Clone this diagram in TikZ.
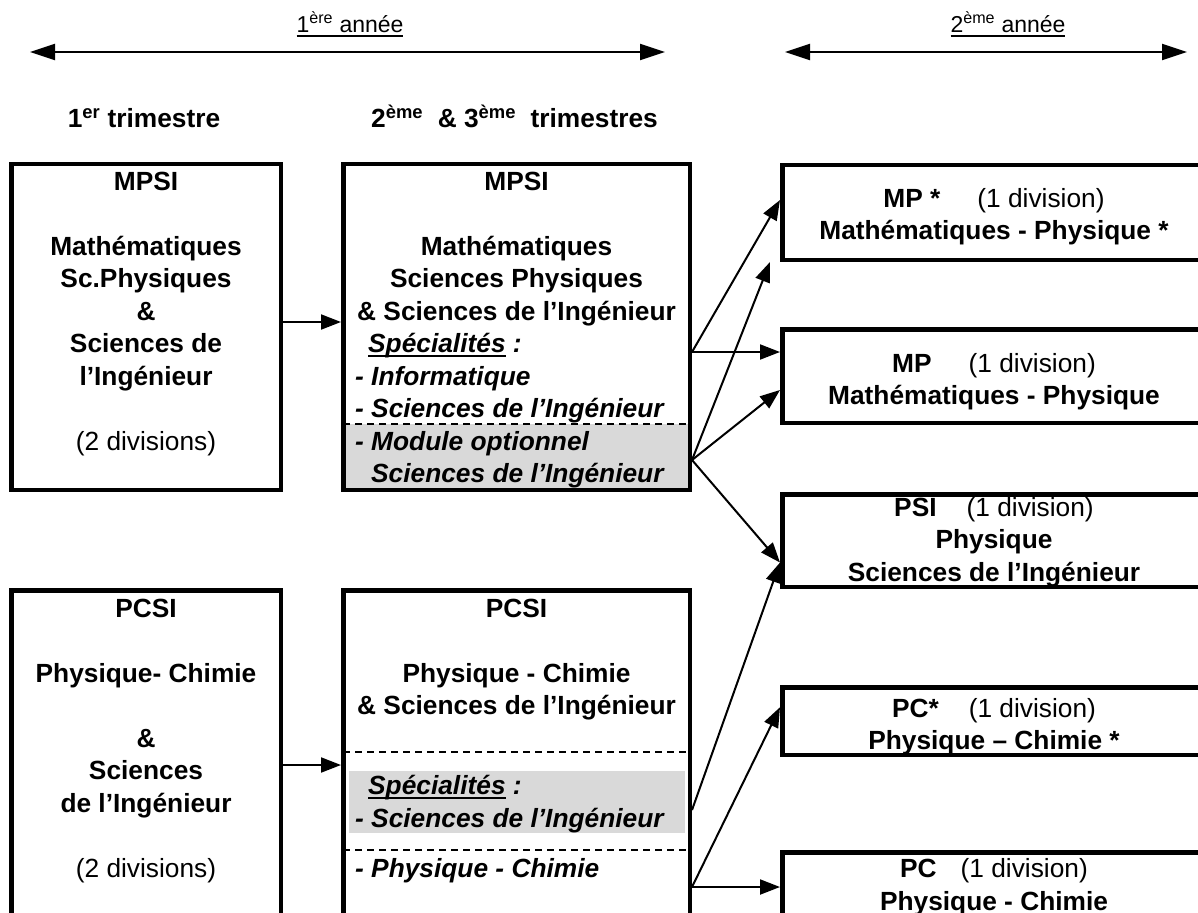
\documentclass[tikz,border=0pt]{standalone}
\usepackage{fontspec}
\setmainfont{Liberation Sans}
\usetikzlibrary{arrows.meta}

\definecolor{gris}{RGB}{217,217,217}
\newcommand\taille{\fontsize{26.3}{32.5}\selectfont}
\newcommand\souligne[1]{\setbox0\hbox{#1}\rlap{\rule[-4pt]{\wd0}{1.5pt}}\box0\relax}

\begin{document}
\begin{tikzpicture}[x=1pt,y=-1pt,
  boite/.style={draw,line width=4.5pt,anchor=north west,inner sep=0pt,align=center,font=\taille\bfseries},
  texte/.style={anchor=base,align=center,inner sep=0pt,font=\taille\bfseries},
  liste/.style={anchor=base west,align=left,inner sep=0pt,font=\taille\bfseries\itshape},
  fleche/.style={line width=2pt,-{Triangle[length=20pt,width=15pt]}},
  annee/.style={line width=2pt,{Triangle[length=25pt,width=16pt]}-{Triangle[length=25pt,width=16pt]}},
  pointille/.style={line width=2pt,dash pattern=on 7pt off 5pt}]
%\draw[style=help lines] (0,0) grid (1198,912);
\useasboundingbox (0,0) rectangle (1198,912);
\clip (0,0) rectangle (1198,912);

% annees
\node[anchor=base,font=\fontsize{23}{27}\selectfont] (an1) at (350,33) {\souligne{1\textsuperscript{ère} année}};
\node[anchor=base,font=\fontsize{23}{27}\selectfont] (an2) at (1008,33) {\souligne{2\textsuperscript{ème} année}};
\coordinate (g1) at (30,52);
\coordinate (d1) at (665,52);
\coordinate (g2) at (785,52);
\coordinate (d2) at (1187,52);
\draw[annee] (g1) -- (d1);
\draw[annee] (g2) -- (d2);

\node[texte] (tri1) at (144,128) {1\textsuperscript{er} trimestre};
\node[texte] (tri2) at (514.5,128) {2\textsuperscript{ème}\ \ \& 3\textsuperscript{ème}\ \ trimestres};

% zones grisees
\fill[gris] (343,424) rectangle (690,490);
\fill[gris] (349,771) rectangle (685,833);

% 1ere annee
\node[boite,minimum width=269.5pt,minimum height=325.5pt] (mpsiA) at (9,162) {};
\node[boite,minimum width=346.5pt,minimum height=325.5pt] (mpsiB) at (341,162) {};
\node[boite,minimum width=269.5pt,minimum height=407.5pt] (pcsiA) at (9,588) {};
\node[boite,minimum width=346.5pt,minimum height=407.5pt] (pcsiB) at (341,588) {};

\draw[pointille] (343,424) -- (690,424);
\draw[pointille] (343,752) -- (690,752);
\draw[pointille] (343,850) -- (690,850);

% (base = ligne du bas)
\node[texte] (tmpsiA) at (146,450) {MPSI\\[32.5pt]Mathématiques\\Sc.Physiques\\\&\\Sciences de\\l’Ingénieur\\[32.5pt]{\mdseries(2 divisions)}};
\node[texte] (tmpsiB) at (516.5,320) {MPSI\\[32.5pt]Mathématiques\\Sciences Physiques\\\& Sciences de l’Ingénieur};
\node[liste] (lmpsiB) at (355,482.5) {\hspace*{13pt}\souligne{Spécialités} :\\- Informatique\\- Sciences de l’Ingénieur\\- Module optionnel\\\hspace*{16pt}Sciences de l’Ingénieur};

\node[texte] (tpcsiA) at (146,877) {PCSI\\[32.5pt]Physique- Chimie\\[32.5pt]\&\\Sciences\\de l’Ingénieur\\[32.5pt]{\mdseries(2 divisions)}};
\node[texte] (tpcsiB) at (516.5,714.5) {PCSI\\[32.5pt]Physique - Chimie\\\& Sciences de l’Ingénieur};
\node[liste] (lpcsiB) at (355,827) {\hspace*{13pt}\souligne{Spécialités} :\\- Sciences de l’Ingénieur};
\node[liste] (lpcsiC) at (355,877) {- Physique - Chimie};

% 2eme annee
\node[boite,minimum width=423.5pt,minimum height=94.5pt] (mpetoile) at (780,163) {\rule{0pt}{27pt}MP *\hspace{37pt}{\mdseries(1 division)}\\Mathématiques - Physique *};
\node[boite,minimum width=423.5pt,minimum height=93.5pt] (mp) at (780,327) {\rule{0pt}{30pt}MP\hspace{37pt}{\mdseries(1 division)}\\Mathématiques - Physique};
\node[boite,minimum width=423.5pt,minimum height=91.5pt] (psi) at (780,492) {\rule{0pt}{22pt}PSI\hspace{30pt}{\mdseries(1 division)}\\Physique\\Sciences de l’Ingénieur};
\node[boite,minimum width=423.5pt,minimum height=63.5pt] (pcetoile) at (780,685) {\rule{0pt}{30pt}PC*\hspace{30pt}{\mdseries(1 division)}\\Physique – Chimie *};
\node[boite,minimum width=423.5pt,minimum height=69.5pt] (pc) at (780,850) {PC\hspace{24pt}{\mdseries(1 division)}\\Physique - Chimie};

% fleches
\draw[fleche] ([yshift=5pt]mpsiA.east) -- ([yshift=5pt]mpsiB.west);
\draw[fleche] ([yshift=29pt]pcsiA.east) -- ([yshift=29pt]pcsiB.west);

\coordinate (srcA) at ([yshift=-25pt]mpsiB.east);
\coordinate (srcB) at ([yshift=-133pt]mpsiB.east);
\coordinate (srcC) at ([yshift=-16pt]pcsiB.east);
\coordinate (srcD) at ([yshift=-93pt]pcsiB.east);

\draw[fleche] (srcA) -- ([yshift=12.5pt]mpetoile.west);
\draw[fleche] (srcA) -- ([yshift=24pt]mp.west);
\draw[fleche] (srcB) -- ([xshift=-10pt]mpetoile.south west);
\draw[fleche] (srcB) -- ([yshift=-14pt]mp.west);
\draw[fleche] (srcB) -- ([yshift=-22pt]psi.west);
\draw[fleche] (srcC) -- ([yshift=-22pt]psi.west);
\draw[fleche] (srcD) -- ([yshift=14pt]pcetoile.west);
\draw[fleche] (srcD) -- (pc.west);

\end{tikzpicture}
\end{document}
